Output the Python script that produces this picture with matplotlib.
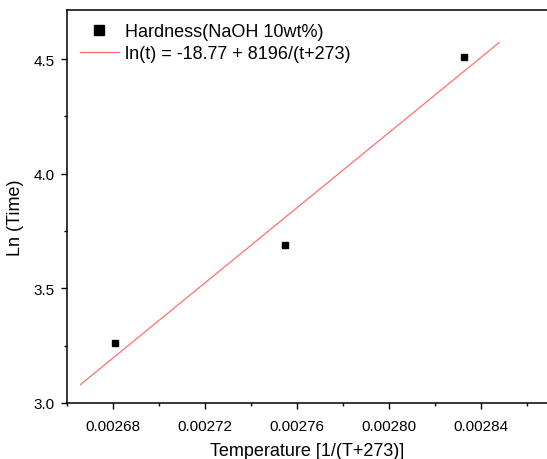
import numpy as np
import matplotlib
matplotlib.use("Agg")
import matplotlib.pyplot as plt
from matplotlib.ticker import MultipleLocator

plt.rcParams['font.family'] = ['Liberation Sans', 'DejaVu Sans']

# measured points: 1/(T+273) vs ln(time)
inv_temp = [0.002681, 0.0027548, 0.0028329]
ln_time = [3.26, 3.69, 4.51]

# linear fit shown in the legend
fit_a = -18.77
fit_b = 8196
fit_x = [0.002666, 0.002848]

series_label = "Hardness(NaOH 10wt%)"
fit_label = "ln(t) = -18.77 + 8196/(t+273)"

W, H = 547, 460
x0, x1, y0, y1 = 66.7, 547.5, 404, 11
fig = plt.figure(figsize=(W / 100, H / 100), dpi=100)
ax = fig.add_axes([x0 / W, 1 - y0 / H, (x1 - x0) / W, (y0 - y1) / H])

ax.plot(inv_temp, ln_time, linestyle="none", marker="s", ms=4.6,
        color="black", label=series_label)
fx = np.array(fit_x)
ax.plot(fx, fit_a + fit_b * fx, color="#ff7070", lw=0.9, label=fit_label)

ax.set_xlim(0.00266, 0.002869)
ax.set_ylim(3.0, 4.714)
ax.xaxis.set_major_locator(MultipleLocator(0.00004))
ax.xaxis.set_minor_locator(MultipleLocator(0.00002))
ax.yaxis.set_major_locator(MultipleLocator(0.5))
ax.yaxis.set_minor_locator(MultipleLocator(0.25))
ax.xaxis.set_major_formatter(plt.FuncFormatter(lambda v, p: f"{v:.5f}"))
ax.yaxis.set_major_formatter(plt.FuncFormatter(lambda v, p: f"{v:.1f}"))

ax.tick_params(which="major", direction="out", length=4.5, width=1.0,
               labelsize=11, pad=4, colors="black")
ax.tick_params(axis="x", which="major", pad=7)
ax.tick_params(which="minor", direction="out", length=2.5, width=1.0)
ax.tick_params(top=False, right=False, which="both")
for s in ax.spines.values():
    s.set_linewidth(1.1)
ax.spines["right"].set_visible(False)

ax.set_xlabel("Temperature [1/(T+273)]", fontsize=13, va="center")
ax.set_ylabel("Ln (Time)", fontsize=13, va="center")
ax.xaxis.set_label_coords((307.5 - x0) / (x1 - x0), -(452 - y0) / (y0 - y1))
ax.yaxis.set_label_coords(-(x0 - 15.3) / (x1 - x0), (y0 - 218) / (y0 - y1))

ax.legend(loc="upper left", bbox_to_anchor=(79.5 / W, 1 - 24 / H),
          bbox_transform=fig.transFigure, frameon=False, fontsize=13,
          handlelength=2.17, handletextpad=0.35, labelspacing=0.28,
          borderpad=0, borderaxespad=0, markerscale=1.5)

fig.savefig("out.png", dpi=100)
